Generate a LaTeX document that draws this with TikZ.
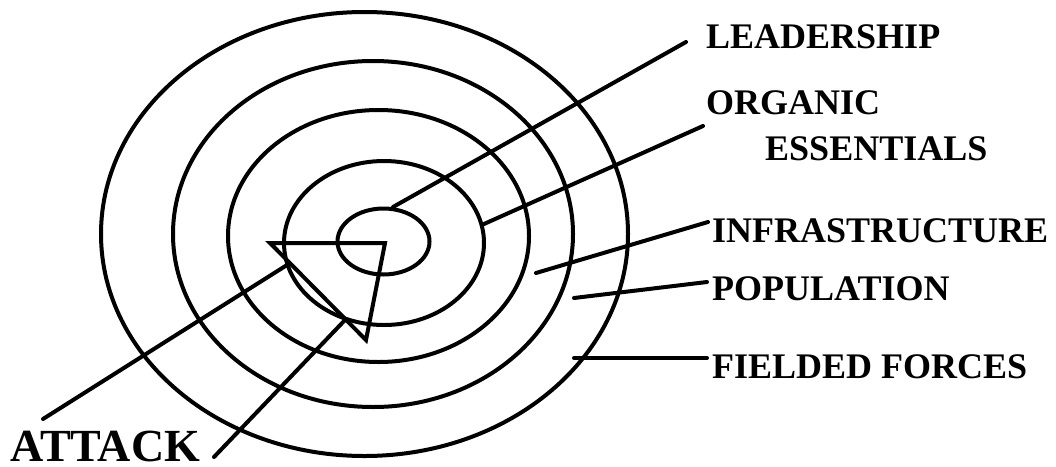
\documentclass[tikz,border=0pt]{standalone}
\usepackage{fontspec}
\setmainfont{Liberation Serif}
\begin{document}
\begin{tikzpicture}[x=1pt,y=-1pt,
  ring/.style={line width=4pt},
  lead/.style={line width=4pt,line cap=round},
  lbl/.style={anchor=base west,inner sep=0pt,font=\fontsize{36}{40}\selectfont\bfseries},
  biglbl/.style={anchor=base west,inner sep=0pt,font=\fontsize{46}{50}\selectfont\bfseries}]
\useasboundingbox (0,0) rectangle (1056,466);
% rings
\draw[ring] (364.5,234) ellipse [x radius=263.5, y radius=222];
\draw[ring] (373,234) ellipse [x radius=200, y radius=173];
\draw[ring] (378.5,236) ellipse [x radius=150.5, y radius=126];
\draw[ring] (384,243) ellipse [x radius=100, y radius=82];
\draw[ring] (383.5,241.5) ellipse [x radius=46, y radius=33];
% labels
\node[lbl] (leadership) at (706,48) {LEADERSHIP};
\node[lbl] (organic) at (706,114) {ORGANIC};
\node[lbl] (essentials) at (765,160) {ESSENTIALS};
\node[lbl] (infra) at (712,242) {INFRASTRUCTURE};
\node[lbl] (population) at (712,300) {POPULATION};
\node[lbl] (fielded) at (712,378) {FIELDED FORCES};
\node[biglbl] (attack) at (10,461) {ATTACK};
% connector end points
\coordinate (l1a) at (393,207);  \coordinate (l1b) at (686,42);
\coordinate (l2a) at (484,224);  \coordinate (l2b) at (703,126);
\coordinate (l3a) at (536,273);  \coordinate (l3b) at (708,222);
\coordinate (l4a) at (574,298);  \coordinate (l4b) at (707,282);
\coordinate (l5a) at (574,358);  \coordinate (l5b) at (707,358);
\draw[lead] (l1a) -- (l1b);
\draw[lead] (l2a) -- (l2b);
\draw[lead] (l3a) -- (l3b);
\draw[lead] (l4a) -- (l4b);
\draw[lead] (l5a) -- (l5b);
% attack triangle
\coordinate (t1) at (270,243);
\coordinate (t2) at (385,243);
\coordinate (t3) at (366,340);
\draw[line width=4pt,line join=miter] (t1) -- (t2) -- (t3) -- cycle;
\coordinate (a1a) at (43,419);  \coordinate (a1b) at (287,265);
\coordinate (a2a) at (214,457); \coordinate (a2b) at (345,320);
\draw[lead] (a1a) -- (a1b);
\draw[lead] (a2a) -- (a2b);
\end{tikzpicture}
\end{document}
